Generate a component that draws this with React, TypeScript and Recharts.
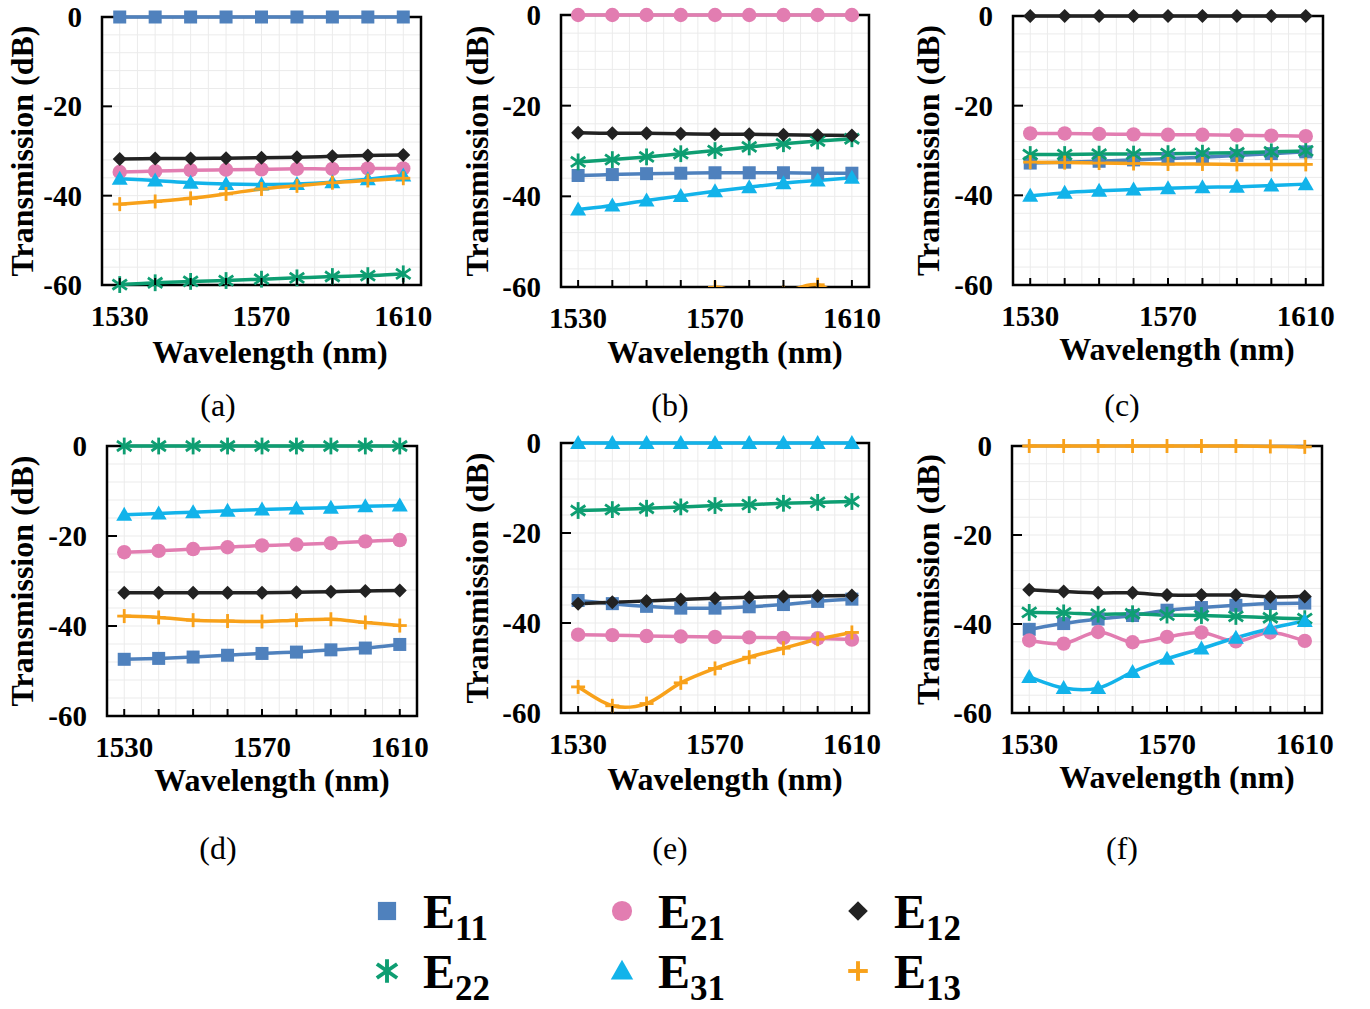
import React from "react";
import { LineChart, Line, XAxis, YAxis, CartesianGrid, ReferenceArea } from "recharts";

const wavelengths = [1530, 1540, 1550, 1560, 1570, 1580, 1590, 1600, 1610];
const xLabelTicks = [1530, 1570, 1610];
const yTicks = [0, -20, -40, -60];
const xGrid = [1525, 1530, 1535, 1540, 1545, 1550, 1555, 1560, 1565, 1570, 1575, 1580, 1585, 1590, 1595, 1600, 1605, 1610, 1615];
const yGrid = [0, -4, -8, -12, -16, -20, -24, -28, -32, -36, -40, -44, -48, -52, -56, -60];

// transmission (dB) per mode, one record per panel
const panelA = {
  E11: [0, 0, 0, 0, 0, 0, 0, 0, 0],
  E22: [-59.9, -59.5, -59.2, -59.0, -58.7, -58.4, -58.1, -57.9, -57.5],
  E21: [-34.7, -34.5, -34.3, -34.2, -34.1, -34.0, -34.0, -33.9, -33.9],
  E31: [-36.2, -36.6, -37.1, -37.4, -37.5, -37.4, -37.0, -36.3, -35.5],
  E12: [-31.8, -31.7, -31.7, -31.6, -31.5, -31.4, -31.2, -31.0, -30.9],
  E13: [-41.9, -41.3, -40.6, -39.6, -38.5, -37.8, -37.1, -36.6, -36.1],
};
const panelB = {
  E11: [-35.4, -35.2, -35.0, -34.9, -34.8, -34.8, -34.8, -34.9, -34.9],
  E22: [-32.4, -31.9, -31.3, -30.6, -29.9, -29.1, -28.4, -27.8, -27.3],
  E21: [0, 0, 0, 0, 0, 0, 0, 0, 0],
  E31: [-42.9, -42.0, -40.9, -39.9, -38.9, -38.0, -37.1, -36.5, -35.9],
  E12: [-26.0, -26.1, -26.1, -26.2, -26.3, -26.3, -26.4, -26.5, -26.6],
  E13: [-75, -72, -68, -64, -60.1, -62, -61.2, -59.5, -64],
};
const panelC = {
  E11: [-32.8, -32.6, -32.4, -32.1, -31.8, -31.5, -31.1, -30.7, -30.3],
  E22: [-30.9, -30.9, -30.8, -30.8, -30.7, -30.6, -30.5, -30.3, -30.1],
  E21: [-26.2, -26.2, -26.3, -26.4, -26.5, -26.5, -26.6, -26.7, -26.8],
  E31: [-40.1, -39.4, -39.0, -38.7, -38.4, -38.2, -38.1, -37.8, -37.5],
  E12: [0, 0, 0, 0, 0, 0, 0, 0, 0],
  E13: [-32.6, -32.7, -32.8, -32.9, -33.0, -33.0, -33.1, -33.1, -33.1],
};
const panelD = {
  E11: [-47.4, -47.2, -46.9, -46.5, -46.1, -45.8, -45.3, -44.9, -44.1],
  E22: [0, 0, 0, 0, 0, 0, 0, 0, 0],
  E21: [-23.6, -23.3, -22.9, -22.5, -22.1, -21.9, -21.6, -21.2, -20.9],
  E31: [-15.3, -15.0, -14.7, -14.4, -14.1, -13.9, -13.7, -13.4, -13.2],
  E12: [-32.6, -32.6, -32.6, -32.6, -32.6, -32.5, -32.4, -32.2, -32.1],
  E13: [-37.8, -38.1, -38.7, -38.9, -39.0, -38.7, -38.5, -39.2, -39.9],
};
const panelE = {
  E11: [-35.0, -35.7, -36.3, -36.7, -36.7, -36.4, -35.9, -35.2, -34.7],
  E22: [-15.0, -14.8, -14.5, -14.2, -13.9, -13.7, -13.4, -13.2, -13.0],
  E21: [-42.6, -42.7, -42.9, -43.0, -43.1, -43.2, -43.3, -43.4, -43.7],
  E31: [0, 0, 0, 0, 0, 0, 0, 0, 0],
  E12: [-35.7, -35.4, -35.1, -34.8, -34.5, -34.3, -34.1, -34.0, -33.9],
  E13: [-54.2, -58.4, -57.9, -53.3, -50.1, -47.6, -45.6, -43.6, -42.1],
};
const panelF = {
  E11: [-41.2, -39.9, -38.9, -38.1, -36.9, -36.3, -35.8, -35.4, -35.3],
  E22: [-37.4, -37.5, -37.8, -37.7, -38.0, -38.1, -38.3, -38.6, -38.8],
  E21: [-43.7, -44.4, -41.8, -44.1, -42.9, -41.9, -43.9, -41.9, -43.8],
  E31: [-51.9, -54.4, -54.4, -50.8, -47.8, -45.5, -43.1, -41.0, -39.3],
  E12: [-32.3, -32.7, -33.0, -33.0, -33.5, -33.5, -33.5, -33.9, -33.8],
  E13: [0, 0, 0, 0, 0, 0, 0, -0.1, -0.2],
};

const SERIES = [
  { key: "E11", sub: "11", color: "#4F81BD", shape: "square" },
  { key: "E22", sub: "22", color: "#0E9E72", shape: "star" },
  { key: "E21", sub: "21", color: "#E27DB1", shape: "circle" },
  { key: "E31", sub: "31", color: "#12B3EA", shape: "triangle" },
  { key: "E12", sub: "12", color: "#222222", shape: "diamond" },
  { key: "E13", sub: "13", color: "#F8A11A", shape: "plus" },
];

// plot-area rectangles + text placement for each subplot
const PANELS = [
  { data: panelA, cap: "(a)", x: 102, y: 17, w: 319, h: 268, tx: 270, ty: 352, yx: 22, cx: 218, cy: 405 },
  { data: panelB, cap: "(b)", x: 561, y: 15, w: 308, h: 272, tx: 725, ty: 352, yx: 477, cx: 670, cy: 405 },
  { data: panelC, cap: "(c)", x: 1013, y: 16, w: 310, h: 269, tx: 1177, ty: 349, yx: 928, cx: 1122, cy: 405 },
  { data: panelD, cap: "(d)", x: 107, y: 446, w: 310, h: 270, tx: 272, ty: 780, yx: 22, cx: 218, cy: 848 },
  { data: panelE, cap: "(e)", x: 561, y: 443, w: 308, h: 270, tx: 725, ty: 779, yx: 477, cx: 670, cy: 848 },
  { data: panelF, cap: "(f)", x: 1012, y: 446, w: 310, h: 267, tx: 1177, ty: 777, yx: 928, cx: 1122, cy: 848 },
];

const FONT = "'Liberation Serif', 'Times New Roman', serif";
const TICK_FS = 29;
const TITLE_FS = 32;
const YW = 100;
const MT = 20;
const MR = 20;
const XH = 60;

// Excel-like smoothed line (Catmull-Rom as cubic beziers)
function smoothCurve(context: any) {
  let pts: number[][] = [];
  return {
    areaStart() {},
    areaEnd() {},
    lineStart() {
      pts = [];
    },
    point(x: number, y: number) {
      pts.push([+x, +y]);
    },
    lineEnd() {
      const n = pts.length;
      if (!n) return;
      context.moveTo(pts[0][0], pts[0][1]);
      for (let i = 0; i < n - 1; i++) {
        const p0 = pts[i - 1] || pts[i];
        const p1 = pts[i];
        const p2 = pts[i + 1];
        const p3 = pts[i + 2] || p2;
        context.bezierCurveTo(
          p1[0] + (p2[0] - p0[0]) / 6,
          p1[1] + (p2[1] - p0[1]) / 6,
          p2[0] - (p3[0] - p1[0]) / 6,
          p2[1] - (p3[1] - p1[1]) / 6,
          p2[0],
          p2[1]
        );
      }
    },
  };
}

function Marker({ shape, cx, cy, color, s = 1 }: any) {
  if (cx == null || cy == null) return null;
  switch (shape) {
    case "square": {
      const d = 13 * s;
      return <rect x={cx - d / 2} y={cy - d / 2} width={d} height={d} fill={color} />;
    }
    case "circle":
      return <circle cx={cx} cy={cy} r={7.2 * s} fill={color} />;
    case "diamond": {
      const r = 7 * s;
      return <polygon points={`${cx},${cy - r} ${cx + r},${cy} ${cx},${cy + r} ${cx - r},${cy}`} fill={color} />;
    }
    case "triangle": {
      const r = 8 * s;
      return <polygon points={`${cx},${cy - r} ${cx + r},${cy + r * 0.75} ${cx - r},${cy + r * 0.75}`} fill={color} />;
    }
    case "star": {
      const r = 7 * s;
      return (
        <g stroke={color} strokeWidth={2.8 * s} strokeLinecap="square">
          <line x1={cx} y1={cy - r} x2={cx} y2={cy + r} />
          <line x1={cx - r * 0.87} y1={cy - r * 0.6} x2={cx + r * 0.87} y2={cy + r * 0.6} />
          <line x1={cx - r * 0.87} y1={cy + r * 0.6} x2={cx + r * 0.87} y2={cy - r * 0.6} />
        </g>
      );
    }
    default: {
      const r = 7 * s;
      return (
        <g stroke={color} strokeWidth={2.8 * s}>
          <line x1={cx - r} y1={cy} x2={cx + r} y2={cy} />
          <line x1={cx} y1={cy - r} x2={cx} y2={cy + r} />
        </g>
      );
    }
  }
}

const XTick = (props: any) => {
  const { x, y, payload } = props;
  const show = xLabelTicks.includes(payload.value);
  return (
    <g>
      <line x1={x} x2={x} y1={y} y2={y - 7} stroke="#000" strokeWidth={2} />
      {show && (
        <text x={x} y={y + 31} textAnchor="middle" dominantBaseline="central" fontFamily={FONT} fontWeight="bold" fontSize={TICK_FS} fill="#000">
          {payload.value}
        </text>
      )}
    </g>
  );
};

const YTick = (props: any) => {
  const { x, y, payload } = props;
  return (
    <g>
      <line x1={x} x2={x + 10} y1={y} y2={y} stroke="#000" strokeWidth={2} />
      <text x={x - 20} y={y} textAnchor="end" dominantBaseline="central" fontFamily={FONT} fontWeight="bold" fontSize={TICK_FS} fill="#000">
        {payload.value}
      </text>
    </g>
  );
};

function Panel({ p }: any) {
  const rows = wavelengths.map((wl, i) => {
    const r: any = { wl };
    SERIES.forEach((s) => (r[s.key] = p.data[s.key][i]));
    return r;
  });
  return (
    <div style={{ position: "absolute", left: p.x - YW, top: p.y - MT }}>
      <LineChart width={YW + p.w + MR} height={MT + p.h + XH} data={rows} margin={{ top: MT, right: MR, bottom: 0, left: 0 }}>
        <CartesianGrid stroke="#ebebeb" strokeWidth={1} horizontalValues={yGrid} verticalValues={xGrid} />
        <ReferenceArea x1={1525} x2={1615} y1={-60} y2={0} fill="none" stroke="#000" strokeWidth={2.5} />
        <XAxis
          dataKey="wl"
          type="number"
          domain={[1525, 1615]}
          ticks={wavelengths}
          interval={0}
          height={XH}
          axisLine={false}
          tickLine={false}
          tickSize={0}
          tickMargin={0}
          tick={<XTick />}
        />
        <YAxis
          type="number"
          domain={[-60, 0]}
          ticks={yTicks}
          interval={0}
          width={YW}
          axisLine={false}
          tickLine={false}
          tickSize={0}
          tickMargin={0}
          tick={<YTick />}
        />
        <YAxis yAxisId="clip" type="number" domain={[-60, 0]} allowDataOverflow hide />
        {SERIES.map((s) => {
          const clip = p.data[s.key].some((v: number) => v < -60);
          return (
            <Line
              key={s.key}
              yAxisId={clip ? "clip" : 0}
              dataKey={s.key}
              type={smoothCurve as any}
              stroke={s.color}
              strokeWidth={3.5}
              isAnimationActive={false}
              dot={(d: any) => <Marker key={`${s.key}-${d.index}`} shape={s.shape} cx={d.cx} cy={d.cy} color={s.color} />}
              activeDot={false}
            />
          );
        })}
      </LineChart>
    </div>
  );
}

export default function App() {
  const legendCols = [387, 622, 858];
  const legendRows = [911, 971];
  const legendOrder = [
    ["E11", 0, 0],
    ["E21", 1, 0],
    ["E12", 2, 0],
    ["E22", 0, 1],
    ["E31", 1, 1],
    ["E13", 2, 1],
  ];
  return (
    <div style={{ position: "absolute", left: 0, top: 0, width: 1370, height: 1009, background: "#fff", overflow: "hidden" }}>
      {PANELS.map((p) => (
        <Panel key={p.cap} p={p} />
      ))}
      <svg width={1370} height={1009} style={{ position: "absolute", left: 0, top: 0, pointerEvents: "none" }}>
        {PANELS.map((p) => (
          <g key={p.cap} fontFamily={FONT} fill="#000">
            <text x={p.tx} y={p.ty} textAnchor="middle" dominantBaseline="central" fontWeight="bold" fontSize={TITLE_FS}>
              Wavelength (nm)
            </text>
            <text
              x={p.yx}
              y={p.y + p.h / 2}
              transform={`rotate(-90 ${p.yx} ${p.y + p.h / 2})`}
              textAnchor="middle"
              dominantBaseline="central"
              fontWeight="bold"
              fontSize={TITLE_FS}
            >
              Transmission (dB)
            </text>
            <text x={p.cx} y={p.cy} textAnchor="middle" dominantBaseline="central" fontSize={32}>
              {p.cap}
            </text>
          </g>
        ))}
        {legendOrder.map(([k, c, r]: any) => {
          const s = SERIES.find((q) => q.key === k)!;
          const mx = legendCols[c];
          const my = legendRows[r];
          return (
            <g key={k}>
              <Marker shape={s.shape} cx={mx} cy={my} color={s.color} s={1.4} />
              <text x={mx + 36} y={my + 17} fontFamily={FONT} fontWeight="bold" fontSize={48} fill="#000">
                E
                <tspan fontSize={35} dy={12}>
                  {s.sub}
                </tspan>
              </text>
            </g>
          );
        })}
      </svg>
    </div>
  );
}
